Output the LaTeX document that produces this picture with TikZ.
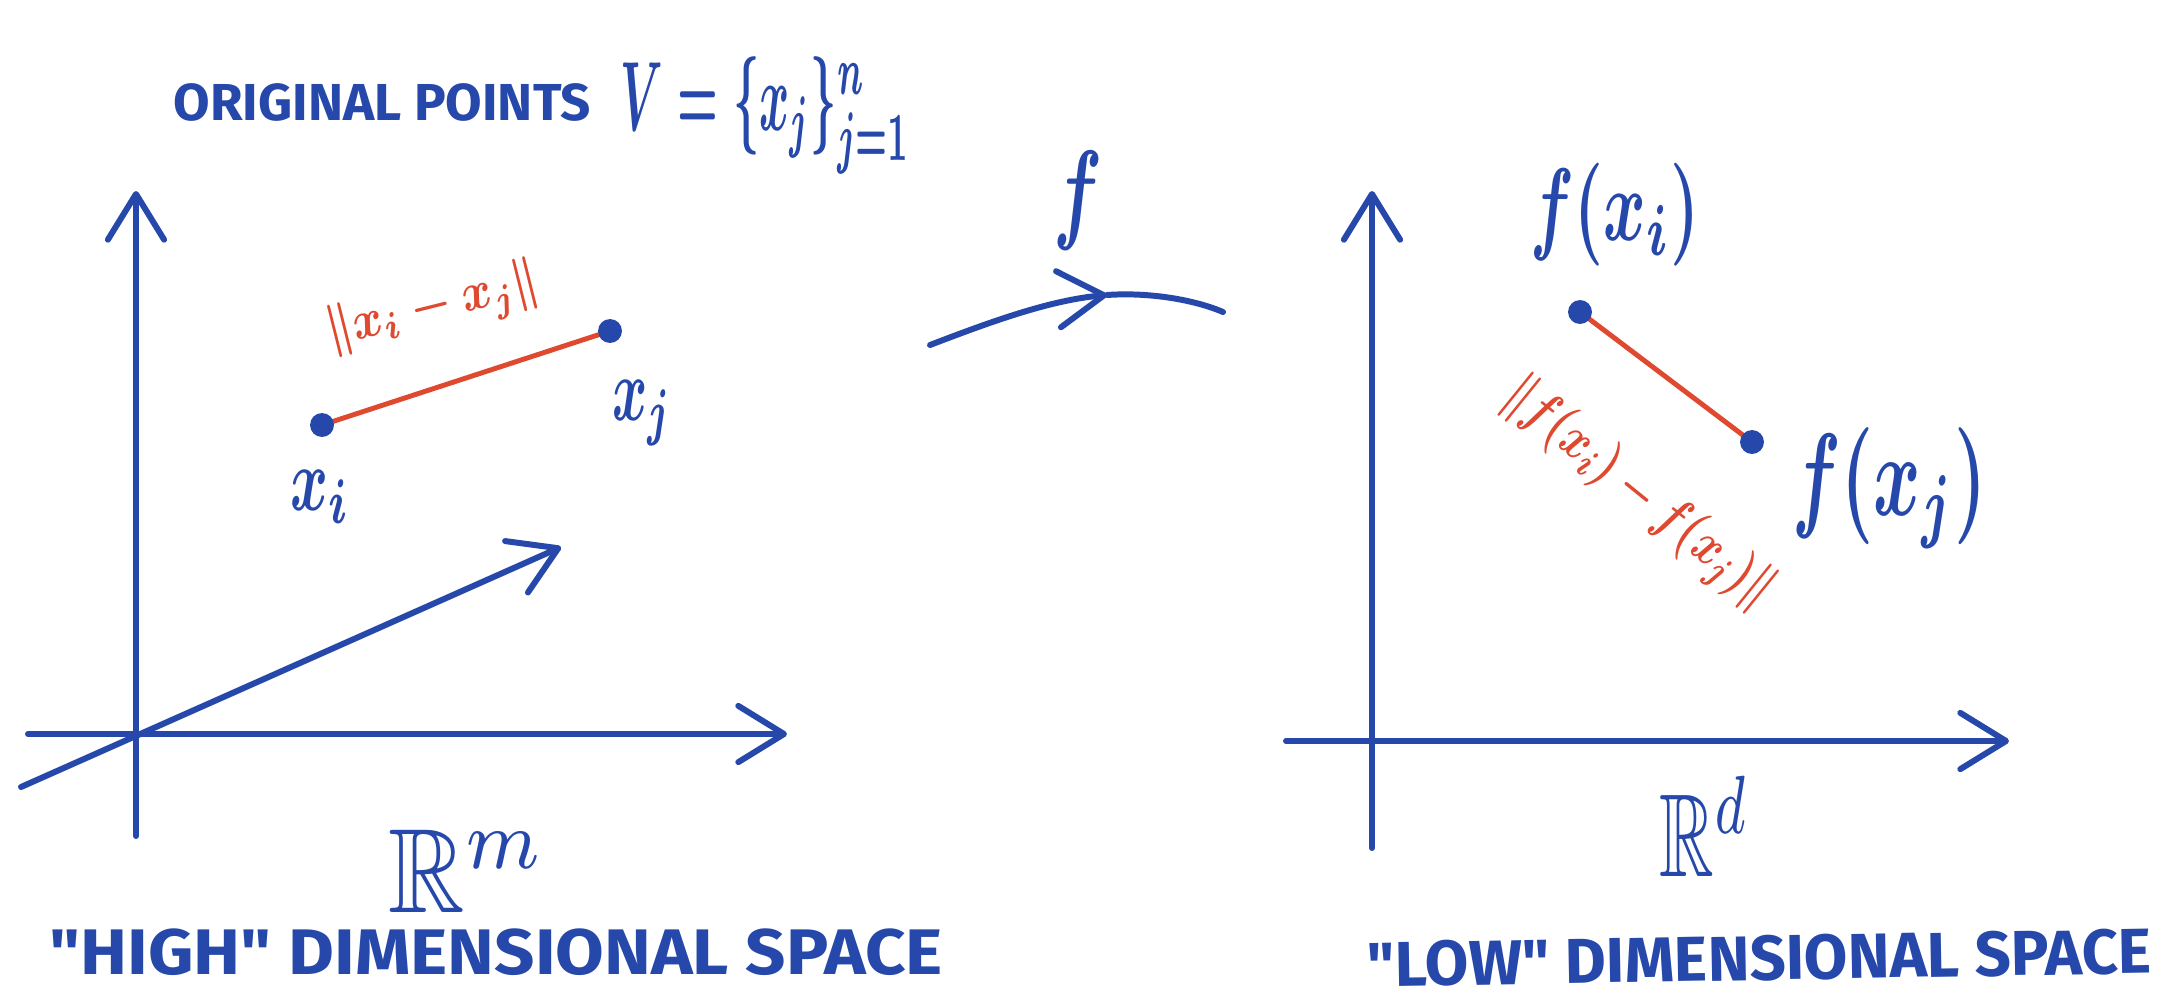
\documentclass[tikz,border=0pt]{standalone}
\usepackage{amssymb}
\usepackage{graphicx}
\usepackage{fontspec}
\newfontfamily\hand{Fira Sans}
\usetikzlibrary{arrows.meta}
\definecolor{hblue}{RGB}{37,72,170}
\definecolor{hred}{RGB}{222,73,47}
\newcommand{\fitbox}[3]{\resizebox{#1}{#2}{#3}}
\begin{document}
\begin{tikzpicture}[x=0.01cm,y=-0.01cm,
  ink/.style={draw=hblue,line width=1.7pt,line cap=round,line join=round},
  axis/.style={ink,-{Straight Barb[length=13pt,width=16pt,round]}},
  redline/.style={draw=hred,line width=1.4pt,line cap=round},
  dot/.style={circle,fill=hblue,inner sep=0pt,minimum size=6.8pt},
  lab/.style={inner sep=0pt,text=hblue},
  rlab/.style={inner sep=0pt,text=hred}]
\fill[white] (0,0) rectangle (2173,1003);
\useasboundingbox (0,0) rectangle (2173,1003);

% left axes
\coordinate (LB) at (136,836); \coordinate (LT) at (136,191);
\coordinate (LL) at (28,734);  \coordinate (LR) at (787,734);
\coordinate (DS) at (21,787);  \coordinate (DE) at (561,547);
\draw[axis] (LB) -- (LT);
\draw[axis] (LL) -- (LR);
\draw[axis] (DS) -- (DE);

% right axes
\coordinate (RB) at (1372,848); \coordinate (RT) at (1372,191);
\coordinate (RL) at (1286,741); \coordinate (RR) at (2009,741);
\draw[axis] (RB) -- (RT);
\draw[axis] (RL) -- (RR);

% mapping arrow f
\coordinate (A0) at (930,345); \coordinate (A1) at (1107,295); \coordinate (A2) at (1223,312);
\draw[axis] (A0) .. controls (990,322) and (1050,300) .. (A1);
\draw[ink] (A1) .. controls (1150,292) and (1195,300) .. (A2);

% points and distances
\coordinate (pi) at (322,425); \coordinate (pj) at (610,331);
\coordinate (qi) at (1580,312); \coordinate (qj) at (1752,442);
\draw[redline] (pi) -- (pj);
\draw[redline] (qi) -- (qj);
\node[dot] (xi) at (pi) {};
\node[dot] (xj) at (pj) {};
\node[dot] (fxi) at (qi) {};
\node[dot] (fxj) at (qj) {};

% labels
\node[lab,anchor=base west] (title) at (173,120) {\fitbox{118.6pt}{10.5pt}{\hand\bfseries ORIGINAL POINTS}};
\node[lab,anchor=base west] (vset) at (620,130) {\fitbox{82.5pt}{21pt}{\boldmath$V=\{x_j\}_{j=1}^{n}$}};
\node[lab,anchor=base west] (flab) at (1053,228) {\fitbox{14pt}{22pt}{\boldmath$f$}};
\node[lab,anchor=base west] (xilab) at (290,510) {\fitbox{17pt}{11.4pt}{\boldmath$x_i$}};
\node[lab,anchor=base west] (xjlab) at (612,420) {\fitbox{17pt}{11.4pt}{\boldmath$x_j$}};
\node[lab,anchor=base west] (fxilab) at (1530,240) {\fitbox{48pt}{22pt}{\boldmath$f(x_i)$}};
\node[lab,anchor=base west] (fxjlab) at (1792,515) {\fitbox{55pt}{25pt}{\boldmath$f(x_j)$}};
\node[rlab,rotate=14] (dlab) at (433,308) {\fitbox{62pt}{11.5pt}{\boldmath$\|x_i-x_j\|$}};
\node[rlab,rotate=-39] (flab2) at (1638,494) {\fitbox{94pt}{12pt}{\boldmath$\|f(x_i)-f(x_j)\|$}};
\node[lab,anchor=base west] (Rm) at (388,912) {\fitbox{44.7pt}{23.5pt}{$\mathbb{R}^{m}$}};
\node[lab,anchor=base west] (Rd) at (1659,876) {\fitbox{25.6pt}{28.5pt}{$\mathbb{R}^{d}$}};
\node[lab,anchor=base west] (high) at (49,974) {\fitbox{254pt}{13pt}{\hand\bfseries "HIGH"\ DIMENSIONAL SPACE}};
\node[lab,anchor=base west,rotate=1] (low) at (1367,987) {\fitbox{223pt}{12.8pt}{\hand\bfseries "LOW"\ DIMENSIONAL SPACE}};
\end{tikzpicture}
\end{document}
